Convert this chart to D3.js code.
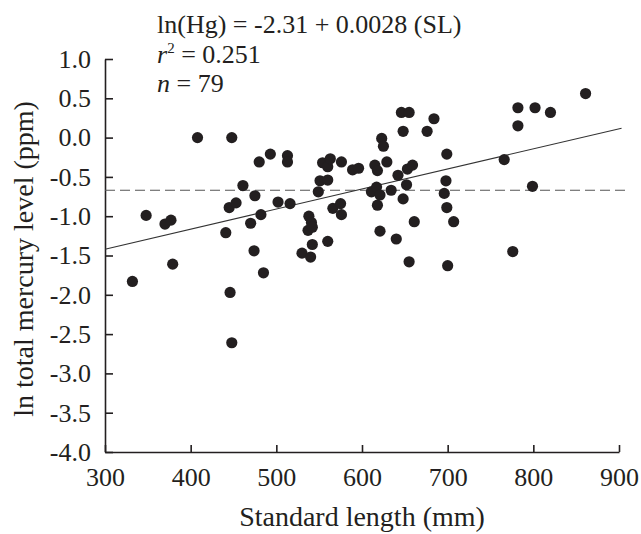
<!DOCTYPE html>
<html>
<head>
<meta charset="utf-8">
<script src="https://cdn.jsdelivr.net/npm/d3@7"></script>
<style>
  body { margin: 0; background: #fff; }
  svg, svg text { font-family: "Liberation Serif", Tinos, "Times New Roman", Times, serif; fill: #231f20; }
</style>
</head>
<body>
<div class="chart"></div>
<script>

const FONT = "Liberation Serif, Tinos, Times New Roman, Times, serif";

// standard length (mm)
const lengths = [
    332, 348, 370, 377, 379, 408, 441, 445, 446, 448,
    448, 453, 461, 470, 475, 474, 480, 482, 485, 493,
    502, 513, 513, 516, 530, 538, 541, 537, 542, 542,
    540, 549, 551, 554, 560, 560, 563, 560, 566, 575,
    576, 576, 589, 596, 611, 615, 617, 618, 618, 621,
    621, 623, 625, 629, 634, 640, 642, 646, 648, 648,
    652, 653, 655, 655, 659, 661, 676, 684, 698, 696,
    699, 699, 700, 707, 766, 776, 782, 782, 799, 802,
    820, 861
];

// ln total mercury (ppm)
const lnHg = [
    -1.83, -0.99, -1.10, -1.05, -1.61, 0.00, -1.21, -0.89, -1.97, -2.61,
    0.00, -0.83, -0.61, -1.09, -0.74, -1.44, -0.31, -0.98, -1.72, -0.21,
    -0.82, -0.23, -0.31, -0.84, -1.47, -1.00, -1.08, -1.18, -1.14, -1.36,
    -1.52, -0.69, -0.55, -0.32, -0.54, -0.37, -0.27, -1.32, -0.90, -0.84,
    -0.98, -0.31, -0.41, -0.39, -0.69, -0.35, -0.63, -0.42, -0.86, -0.73,
    -1.19, -0.01, -0.11, -0.31, -0.67, -1.29, -0.48, 0.32, 0.08, -0.78,
    -0.60, -0.40, 0.32, -1.58, -0.35, -1.07, 0.08, 0.24, -0.55, -0.71,
    -0.21, -0.89, -1.63, -1.07, -0.28, -1.45, 0.38, 0.15, -0.62, 0.38,
    0.32, 0.56
];

const xTicks = [300, 400, 500, 600, 700, 800, 900];
const yTicks = [1.0, 0.5, 0.0, -0.5, -1.0, -1.5, -2.0, -2.5, -3.0, -3.5, -4.0];

// fitted line and mean line, as drawn
const regLine = [[300, -1.42], [903, 0.12]];
const meanLine = [[300, -0.67], [910, -0.67]];

const width = 641;
const height = 534;

const svg = d3.select(".chart")
    .append("svg")
    .attr("width", width)
    .attr("height", height)
    .attr("font-family", FONT);

const x = d3.scaleLinear()
    .domain([300, 900])
    .range([105, 619]);

const y = d3.scaleLinear()
    .domain([-4, 1])
    .range([452, 59]);

// Ejes

const xAxis = svg.append("g")
    .attr("transform", `translate(0,${y(-4)})`)
    .call(d3.axisBottom(x)
        .tickValues(xTicks)
        .tickSizeInner(-7)
        .tickSizeOuter(0)
        .tickPadding(16)
        .tickFormat(d3.format("d")));

const yAxis = svg.append("g")
    .attr("transform", `translate(${x(300)},0)`)
    .call(d3.axisLeft(y)
        .tickValues(yTicks)
        .tickSizeInner(-8)
        .tickSizeOuter(0)
        .tickPadding(14)
        .tickFormat(d => d.toFixed(1)));

[xAxis, yAxis].forEach(g => {
    g.attr("font-family", FONT)
        .attr("font-size", 26);
    g.selectAll("path, line")
        .attr("stroke", "#231f20")
        .attr("stroke-width", 1.6);
    g.selectAll("text")
        .attr("fill", "#231f20");
});

// Lineas

const line = d3.line()
    .x(d => x(d[0]))
    .y(d => y(d[1]));

svg.append("path")
    .datum(meanLine)
    .attr("d", line)
    .attr("fill", "none")
    .attr("stroke", "#555")
    .attr("stroke-width", 1.1)
    .attr("stroke-dasharray", "10,5");

svg.append("path")
    .datum(regLine)
    .attr("d", line)
    .attr("fill", "none")
    .attr("stroke", "#333")
    .attr("stroke-width", 1.1);

// Puntos

svg.selectAll("circle")
    .data(lengths.map((d, i) => [d, lnHg[i]]))
    .enter()
    .append("circle")
    .attr("cx", d => x(d[0]))
    .attr("cy", d => y(d[1]))
    .attr("r", 5.6)
    .attr("fill", "#231f20");

// Texto

const note = svg.append("g")
    .attr("font-size", 26);

note.append("text")
    .attr("x", 157)
    .attr("y", 33)
    .text("ln(Hg) = -2.31 + 0.0028 (SL)");

const r2 = note.append("text")
    .attr("x", 157)
    .attr("y", 63);
r2.append("tspan").attr("font-style", "italic").text("r");
r2.append("tspan").attr("dy", -10).attr("font-size", 15).text("2");
r2.append("tspan").attr("dy", 10).text(" = 0.251");

const nn = note.append("text")
    .attr("x", 157)
    .attr("y", 92);
nn.append("tspan").attr("font-style", "italic").text("n");
nn.append("tspan").text(" = 79");

svg.append("text")
    .attr("x", (x(300) + x(900)) / 2)
    .attr("y", 526)
    .attr("text-anchor", "middle")
    .attr("font-size", 28)
    .text("Standard length (mm)");

svg.append("text")
    .attr("transform", "translate(33,259) rotate(-90)")
    .attr("text-anchor", "middle")
    .attr("font-size", 28)
    .text("ln total mercury level (ppm)");

</script>
</body>
</html>
